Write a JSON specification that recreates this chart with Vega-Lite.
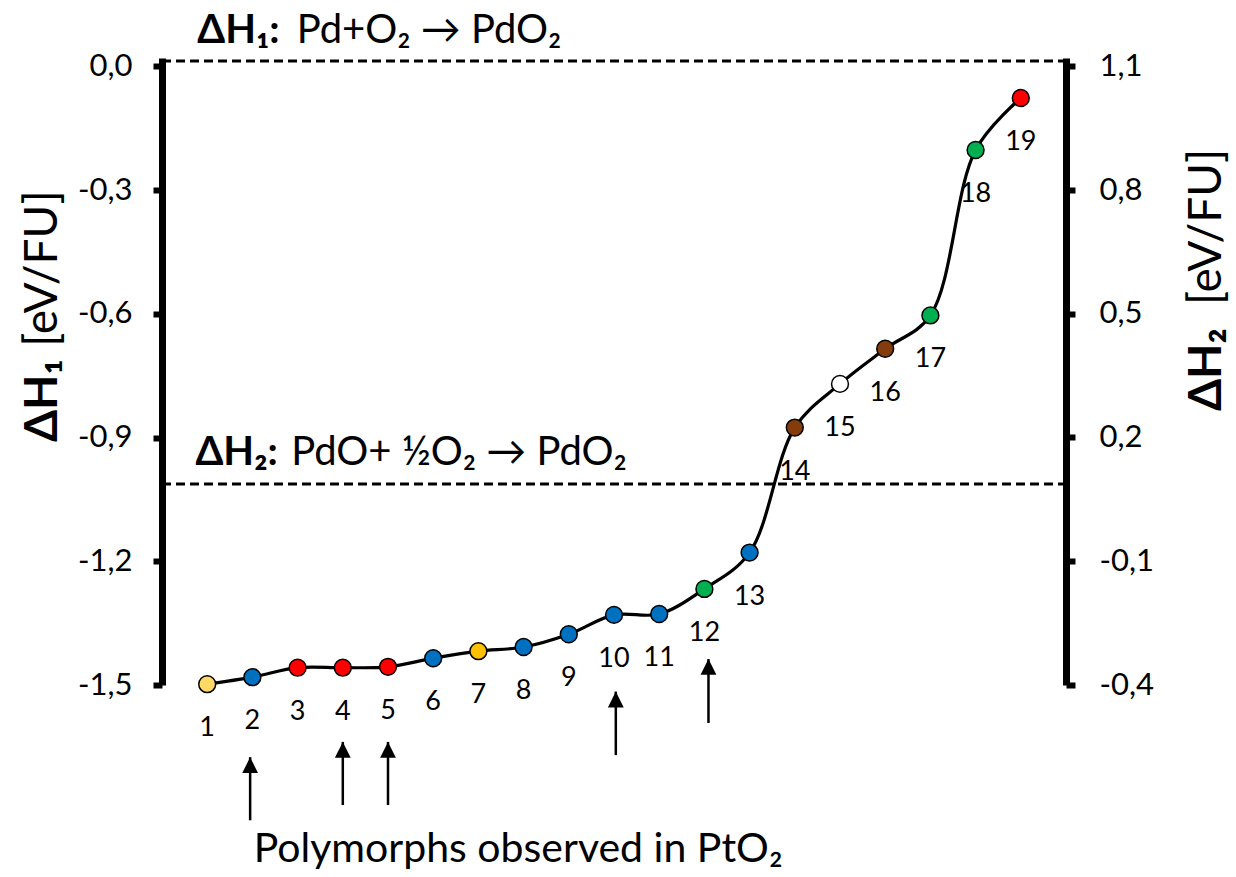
{
  "$schema": "https://vega.github.io/schema/vega-lite/v6.json",
  "width": 904,
  "height": 627,
  "autosize": {"type": "none"},
  "padding": {"left": 162, "top": 58, "right": 170, "bottom": 192},
  "config": {
    "view": {"stroke": null},
    "font": "Lato",
    "text": {"font": "Lato", "color": "black"},
    "axis": {
      "domainColor": "black",
      "domainWidth": 7,
      "tickColor": "black",
      "tickWidth": 6,
      "tickSize": 9,
      "labelFont": "Lato",
      "labelFontSize": 31,
      "labelColor": "black",
      "grid": false
    }
  },
  "datasets": {
    "polymorphs": [
      {"rank": 1, "dh1": -1.498, "family": "A"},
      {"rank": 2, "dh1": -1.481, "family": "B"},
      {"rank": 3, "dh1": -1.458, "family": "C"},
      {"rank": 4, "dh1": -1.458, "family": "C"},
      {"rank": 5, "dh1": -1.456, "family": "C"},
      {"rank": 6, "dh1": -1.435, "family": "B"},
      {"rank": 7, "dh1": -1.418, "family": "D"},
      {"rank": 8, "dh1": -1.408, "family": "B"},
      {"rank": 9, "dh1": -1.377, "family": "B"},
      {"rank": 10, "dh1": -1.330, "family": "B"},
      {"rank": 11, "dh1": -1.328, "family": "B"},
      {"rank": 12, "dh1": -1.267, "family": "E"},
      {"rank": 13, "dh1": -1.179, "family": "B"},
      {"rank": 14, "dh1": -0.876, "family": "F"},
      {"rank": 15, "dh1": -0.770, "family": "G"},
      {"rank": 16, "dh1": -0.685, "family": "F"},
      {"rank": 17, "dh1": -0.604, "family": "E"},
      {"rank": 18, "dh1": -0.203, "family": "E"},
      {"rank": 19, "dh1": -0.077, "family": "C"}
    ],
    "observed": [
      {"rank": 1.95, "tip": -1.675, "tail": -1.828},
      {"rank": 4, "tip": -1.638, "tail": -1.791},
      {"rank": 5, "tip": -1.638, "tail": -1.791},
      {"rank": 10.04, "tip": -1.516, "tail": -1.670},
      {"rank": 12.09, "tip": -1.437, "tail": -1.592}
    ],
    "refH1": [{"dh1": 0.013}],
    "refH2": [{"dh2": 0.087}],
    "boldNotes": [
      {"rank": 0.78, "dh1": 0.0558, "label": "ΔH₁:"},
      {"rank": 0.74, "dh1": -0.967, "label": "ΔH₂:"}
    ],
    "plainNotes": [
      {"rank": 2.98, "dh1": 0.0558, "label": "Pd+O₂ → PdO₂"},
      {"rank": 2.86, "dh1": -0.967, "label": "PdO+ ½O₂ → PdO₂"}
    ],
    "axisBold": [
      {"rank": -2.63, "dh1": -0.911, "label": "ΔH₁"},
      {"rank": 23.12, "dh1": -0.836, "label": "ΔH₂"}
    ],
    "axisPlain": [
      {"rank": -2.63, "dh1": -0.680, "label": "[eV/FU]"},
      {"rank": 23.12, "dh1": -0.579, "label": "[eV/FU]"}
    ],
    "caption": [{"rank": 7.88, "dh1": -1.929, "label": "Polymorphs observed in PtO₂"}]
  },
  "layer": [
    {
      "layer": [
        {
          "data": {"name": "refH1"},
          "mark": {"type": "rule", "strokeWidth": 3, "strokeDash": [9, 5], "color": "black"},
          "encoding": {
            "x": {"datum": 0, "type": "quantitative", "scale": {"domain": [0, 20], "nice": false, "zero": false}, "axis": null},
            "x2": {"datum": 20},
            "y": {
              "field": "dh1",
              "type": "quantitative",
              "title": null,
              "scale": {"domain": [-1.5, 0.02], "nice": false, "zero": false},
              "axis": {
                "orient": "left",
                "values": [-1.5, -1.2, -0.9, -0.6, -0.3, 0],
                "labelExpr": "replace(replace(format(datum.value, '.1f'), '.', ','), '\u2212', '-')",
                "labelPadding": 21
              }
            }
          }
        },
        {
          "data": {"name": "polymorphs"},
          "mark": {"type": "line", "interpolate": "catmull-rom", "strokeWidth": 3.2, "color": "black"},
          "encoding": {
            "x": {"field": "rank", "type": "quantitative", "axis": null},
            "y": {"field": "dh1", "type": "quantitative", "title": null}
          }
        },
        {
          "data": {"name": "polymorphs"},
          "mark": {"type": "point", "filled": true, "size": 285, "stroke": "black", "strokeWidth": 1.5, "opacity": 1},
          "encoding": {
            "x": {"field": "rank", "type": "quantitative", "axis": null},
            "y": {"field": "dh1", "type": "quantitative", "title": null},
            "fill": {
              "field": "family",
              "type": "nominal",
              "legend": null,
              "scale": {
                "domain": ["A", "B", "C", "D", "E", "F", "G"],
                "range": ["#FFD966", "#0070C0", "#FF0000", "#FFC000", "#00B050", "#843C0C", "#FFFFFF"]
              }
            }
          }
        },
        {
          "data": {"name": "polymorphs"},
          "mark": {"type": "text", "fontSize": 27, "dy": 44, "baseline": "middle", "align": "center"},
          "encoding": {
            "x": {"field": "rank", "type": "quantitative", "axis": null},
            "y": {"field": "dh1", "type": "quantitative", "title": null},
            "text": {"field": "rank", "type": "nominal"}
          }
        },
        {
          "data": {"name": "observed"},
          "mark": {"type": "rule", "strokeWidth": 2.5, "color": "black"},
          "encoding": {
            "x": {"field": "rank", "type": "quantitative", "axis": null},
            "y": {"field": "tip", "type": "quantitative", "title": null},
            "y2": {"field": "tail"}
          }
        },
        {
          "data": {"name": "observed"},
          "mark": {"type": "point", "shape": "M0,0L1,2L-1,2Z", "size": 250, "filled": true, "color": "black", "opacity": 1},
          "encoding": {
            "x": {"field": "rank", "type": "quantitative", "axis": null},
            "y": {"field": "tip", "type": "quantitative", "title": null}
          }
        },
        {
          "data": {"name": "boldNotes"},
          "mark": {"type": "text", "fontSize": 40, "fontWeight": "bold", "align": "left", "baseline": "alphabetic"},
          "encoding": {
            "x": {"field": "rank", "type": "quantitative", "axis": null},
            "y": {"field": "dh1", "type": "quantitative", "title": null},
            "text": {"field": "label"}
          }
        },
        {
          "data": {"name": "plainNotes"},
          "mark": {"type": "text", "fontSize": 40, "align": "left", "baseline": "alphabetic"},
          "encoding": {
            "x": {"field": "rank", "type": "quantitative", "axis": null},
            "y": {"field": "dh1", "type": "quantitative", "title": null},
            "text": {"field": "label"}
          }
        },
        {
          "data": {"name": "axisBold"},
          "mark": {"type": "text", "fontSize": 46, "fontWeight": "bold", "angle": 270, "align": "left", "baseline": "middle"},
          "encoding": {
            "x": {"field": "rank", "type": "quantitative", "axis": null},
            "y": {"field": "dh1", "type": "quantitative", "title": null},
            "text": {"field": "label"}
          }
        },
        {
          "data": {"name": "axisPlain"},
          "mark": {"type": "text", "fontSize": 46, "angle": 270, "align": "left", "baseline": "middle"},
          "encoding": {
            "x": {"field": "rank", "type": "quantitative", "axis": null},
            "y": {"field": "dh1", "type": "quantitative", "title": null},
            "text": {"field": "label"}
          }
        },
        {
          "data": {"name": "caption"},
          "mark": {"type": "text", "fontSize": 41, "align": "center", "baseline": "alphabetic"},
          "encoding": {
            "x": {"field": "rank", "type": "quantitative", "axis": null},
            "y": {"field": "dh1", "type": "quantitative", "title": null},
            "text": {"field": "label"}
          }
        }
      ]
    },
    {
      "data": {"name": "refH2"},
      "mark": {"type": "rule", "strokeWidth": 3, "strokeDash": [9, 5], "color": "black"},
      "encoding": {
        "x": {"datum": 0, "type": "quantitative", "axis": null},
        "x2": {"datum": 20},
        "y": {
          "field": "dh2",
          "type": "quantitative",
          "title": null,
          "scale": {"domain": [-0.4, 1.12], "nice": false, "zero": false},
          "axis": {
            "orient": "right",
            "values": [-0.4, -0.1, 0.2, 0.5, 0.8, 1.1],
            "labelExpr": "replace(replace(format(datum.value, '.1f'), '.', ','), '\u2212', '-')",
            "labelPadding": 24
          }
        }
      }
    }
  ],
  "resolve": {"scale": {"y": "independent"}}
}
